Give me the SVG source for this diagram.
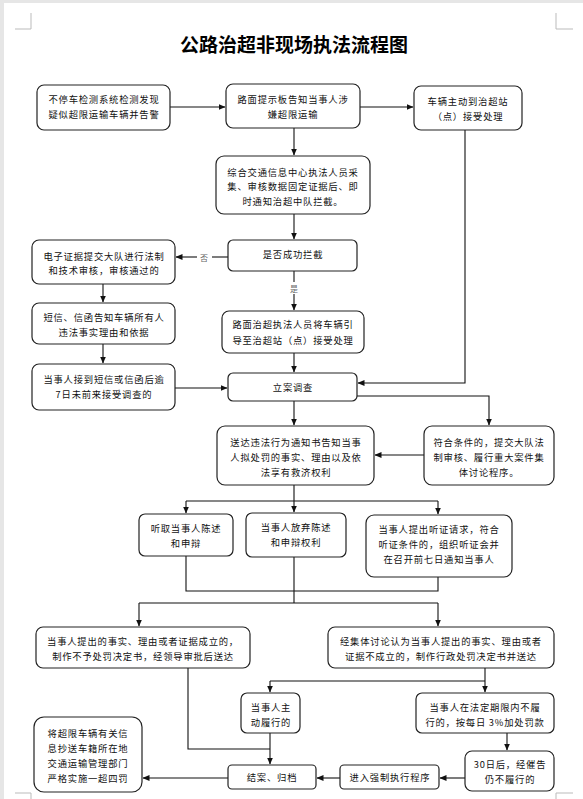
<svg xmlns="http://www.w3.org/2000/svg" width="583" height="799" viewBox="0 0 583 799">
<defs>
<marker id="ah" markerWidth="7" markerHeight="6" refX="6.5" refY="3" orient="auto" markerUnits="userSpaceOnUse">
<path d="M0,0 L7,3 L0,6 Z" fill="#111"/>
</marker>
<style>
.bx{fill:#fff;stroke:#222;stroke-width:1.2}
.t{font-family:"Noto Sans CJK SC","Liberation Sans",sans-serif;font-size:9.3px;letter-spacing:0.8px;fill:#111;text-anchor:middle;dominant-baseline:central}
.lb{font-family:"Noto Sans CJK SC","Liberation Sans",sans-serif;font-size:8px;fill:#666;text-anchor:middle;dominant-baseline:central}
.c{fill:none;stroke:#111;stroke-width:1.1}
.a{fill:none;stroke:#111;stroke-width:1.1;marker-end:url(#ah)}
.m{fill:none;stroke:#bbb;stroke-width:1}
</style>
</defs>
<rect x="0" y="0" width="583" height="799" fill="#fff"/>
<rect x="0" y="0" width="583" height="3" fill="#e6e6e6"/>
<rect x="0" y="0" width="4" height="799" fill="#e6e6e6"/>
<g id="corners">
<path class="m" d="M15,29 H31 V13"/>
<path class="m" d="M556,13 V29 H573"/>
<path class="m" d="M15,793 H31 V799"/>
<path class="m" d="M556,799 V793 H573"/>
</g>
<text x="294" y="43" font-family="Noto Sans CJK SC, sans-serif" font-size="19" font-weight="bold" text-anchor="middle" dominant-baseline="central" fill="#000">公路治超非现场执法流程图</text>

<g id="connectors">
<path class="a" d="M170,107 H225"/>
<path class="a" d="M360,107 H413"/>
<path class="a" d="M294,128 V155"/>
<path class="a" d="M465,130 V383 H358"/>
<path class="a" d="M294,214 V239"/>
<path class="c" d="M228,257 H212"/>
<path class="a" d="M197,257 H176"/>
<text class="lb" x="204" y="257">否</text>
<path class="c" d="M294,271 V282"/>
<path class="a" d="M294,294 V310"/>
<text class="lb" x="294" y="288">是</text>
<path class="a" d="M103,284 V302"/>
<path class="a" d="M103,344 V363"/>
<path class="a" d="M175,388 H227"/>
<path class="a" d="M294,353 V372"/>
<path class="a" d="M357,396 H489 V425"/>
<path class="a" d="M294,401 V425"/>
<path class="a" d="M424,455 H375"/>
<path class="c" d="M294,485 V501 M186,501 H438"/>
<path class="a" d="M186,501 V513"/>
<path class="a" d="M294,501 V512"/>
<path class="a" d="M438,501 V514"/>
<path class="c" d="M186,556 V591 H438 V577 M294,557 V603 M139,603 H438"/>
<path class="a" d="M139,603 V626"/>
<path class="a" d="M438,603 V626"/>
<path class="c" d="M188,668 V749 H270"/>
<path class="c" d="M485,668 V681 M270,681 H485"/>
<path class="a" d="M270,681 V692"/>
<path class="a" d="M485,681 V692"/>
<path class="a" d="M270,733 V764"/>
<path class="a" d="M507,733 V750"/>
<path class="a" d="M465,778 H440"/>
<path class="a" d="M340,778 H317"/>
<path class="a" d="M228,778 H143"/>
</g>

<g id="n1"><rect class="bx" x="37" y="85" width="133" height="45" rx="7"/>
<text class="t" x="104" y="99">不停车检测系统检测发现</text><text class="t" x="104" y="114">疑似超限运输车辆并告警</text></g>
<g id="n2"><rect class="bx" x="226" y="84" width="134" height="44" rx="7"/>
<text class="t" x="293" y="99">路面提示板告知当事人涉</text><text class="t" x="293" y="114">嫌超限运输</text></g>
<g id="n3"><rect class="bx" x="414" y="86" width="108" height="44" rx="7"/>
<text class="t" x="468" y="101">车辆主动到治超站</text><text class="t" x="468" y="116">（点）接受处理</text></g>
<g id="n4"><rect class="bx" x="216" y="156" width="154" height="58" rx="8"/>
<text class="t" x="293" y="172">综合交通信息中心执法人员采</text><text class="t" x="293" y="186">集、审核数据固定证据后、即</text><text class="t" x="293" y="201">时通知治超中队拦截。</text></g>
<g id="n5"><rect class="bx" x="228" y="240" width="129" height="31" rx="5"/>
<text class="t" x="293" y="254">是否成功拦截</text></g>
<g id="n6"><rect class="bx" x="32" y="240" width="143" height="44" rx="7"/>
<text class="t" x="104" y="256">电子证据提交大队进行法制</text><text class="t" x="104" y="270">和技术审核，审核通过的</text></g>
<g id="n7"><rect class="bx" x="32" y="303" width="143" height="41" rx="7"/>
<text class="t" x="104" y="317">短信、信函告知车辆所有人</text><text class="t" x="104" y="332">违法事实理由和依据</text></g>
<g id="n8"><rect class="bx" x="32" y="364" width="143" height="46" rx="7"/>
<text class="t" x="104" y="379">当事人接到短信或信函后逾</text><text class="t" x="104" y="394">7日未前来接受调查的</text></g>
<g id="n9"><rect class="bx" x="222" y="311" width="142" height="42" rx="7"/>
<text class="t" x="293" y="324">路面治超执法人员将车辆引</text><text class="t" x="293" y="340">导至治超站（点）接受处理</text></g>
<g id="n10"><rect class="bx" x="228" y="373" width="129" height="28" rx="5"/>
<text class="t" x="293" y="387">立案调查</text></g>
<g id="n11"><rect class="bx" x="217" y="426" width="157" height="59" rx="8"/>
<text class="t" x="296" y="442">送达违法行为通知书告知当事</text><text class="t" x="296" y="457">人拟处罚的事实、理由以及依</text><text class="t" x="296" y="472">法享有救济权利</text></g>
<g id="n12"><rect class="bx" x="424" y="426" width="130" height="59" rx="8"/>
<text class="t" x="489" y="442">符合条件的，提交大队法</text><text class="t" x="489" y="457">制审核、履行重大案件集</text><text class="t" x="489" y="472">体讨论程序。</text></g>
<g id="n13"><rect class="bx" x="139" y="514" width="94" height="42" rx="6"/>
<text class="t" x="186" y="528">听取当事人陈述</text><text class="t" x="186" y="543">和申辩</text></g>
<g id="n14"><rect class="bx" x="246" y="513" width="100" height="44" rx="6"/>
<text class="t" x="296" y="527">当事人放弃陈述</text><text class="t" x="296" y="542">和申辩权利</text></g>
<g id="n15"><rect class="bx" x="366" y="515" width="146" height="62" rx="8"/>
<text class="t" x="439" y="529">当事人提出听证请求，符合</text><text class="t" x="439" y="544">听证条件的，组织听证会并</text><text class="t" x="439" y="559">在召开前七日通知当事人</text></g>
<g id="n16"><rect class="bx" x="36" y="627" width="214" height="41" rx="7"/>
<text class="t" x="143" y="641">当事人提出的事实、理由或者证据成立的，</text><text class="t" x="143" y="656">制作不予处罚决定书，经领导审批后送达</text></g>
<g id="n17"><rect class="bx" x="328" y="627" width="226" height="41" rx="7"/>
<text class="t" x="441" y="641">经集体讨论认为当事人提出的事实、理由或者</text><text class="t" x="441" y="656">证据不成立的，制作行政处罚决定书并送达</text></g>
<g id="n18"><rect class="bx" x="241" y="693" width="59" height="40" rx="6"/>
<text class="t" x="271" y="707">当事人主</text><text class="t" x="271" y="722">动履行的</text></g>
<g id="n19"><rect class="bx" x="416" y="693" width="138" height="40" rx="6"/>
<text class="t" x="485" y="707">当事人在法定期限内不履</text><text class="t" x="485" y="722">行的，按每日 3%加处罚款</text></g>
<g id="n20"><rect class="bx" x="228" y="765" width="88" height="24" rx="4"/>
<text class="t" x="272" y="777">结案、归档</text></g>
<g id="n21"><rect class="bx" x="34" y="717" width="108" height="75" rx="10"/>
<text class="t" x="88" y="733">将超限车辆有关信</text><text class="t" x="88" y="748">息抄送车籍所在地</text><text class="t" x="88" y="763">交通运输管理部门</text><text class="t" x="88" y="778">严格实施一超四罚</text></g>
<g id="n22"><rect class="bx" x="465" y="751" width="89" height="40" rx="7"/>
<text class="t" x="510" y="764">30日后，经催告</text><text class="t" x="510" y="779">仍不履行的</text></g>
<g id="n23"><rect class="bx" x="340" y="765" width="99" height="24" rx="4"/>
<text class="t" x="390" y="777">进入强制执行程序</text></g>
</svg>
